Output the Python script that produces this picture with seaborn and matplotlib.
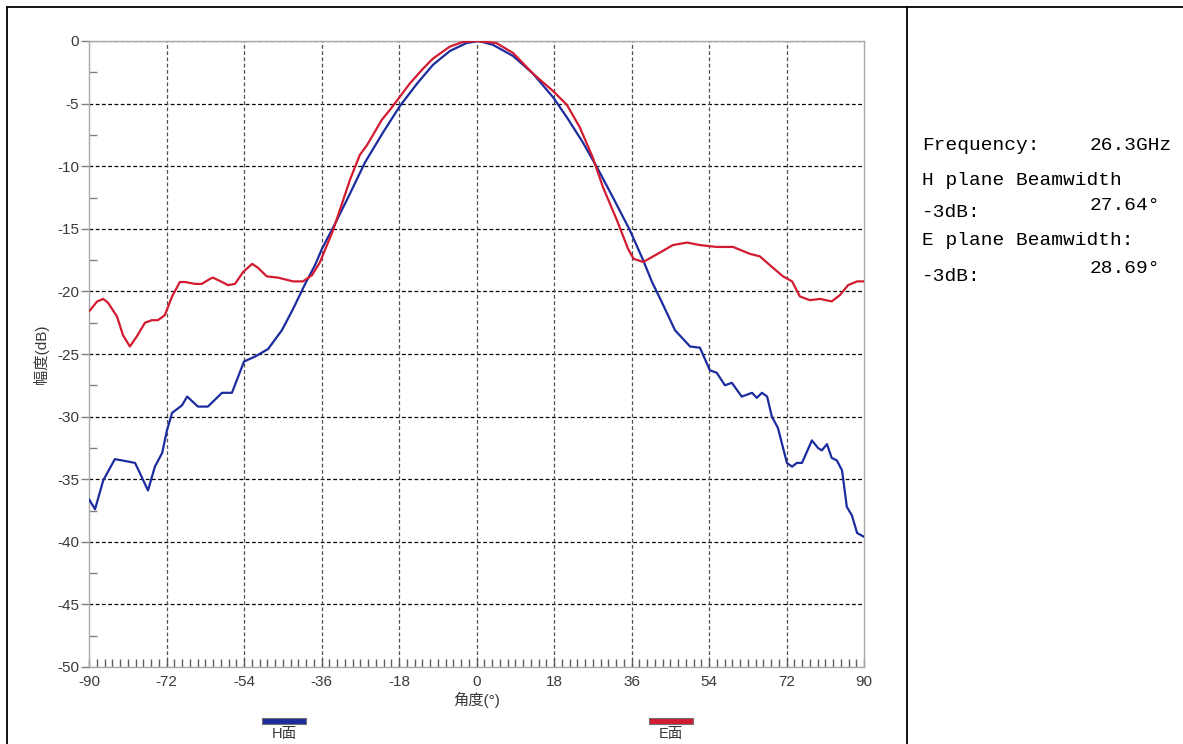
import numpy as np
import pandas as pd
import matplotlib.pyplot as plt
import seaborn as sns
from matplotlib.lines import Line2D
from matplotlib.patches import Rectangle
from matplotlib.ticker import MultipleLocator

# -----------------------------
# Data
# -----------------------------
h_angle = [-90, -88.6, -86.7, -84.0, -82.3, -79.3, -78.2, -76.3, -74.7, -73.0,
           -71.9, -70.7, -68.4, -67.2, -64.7, -62.4, -59.1, -56.8, -54.0, -51.4,
           -48.4, -45.2, -42.6, -39.8, -37.5, -35.9, -33.3, -29.4, -25.9, -21.7,
           -17.8, -13.8, -10.1, -6.2, -2.3, 0.5, 3.8, 8.5, 13.1, 17.8,
           21.0, 24.7, 28.0, 31.7, 35.6, 38.7, 40.7, 43.1, 46.1, 49.6,
           51.9, 54.2, 55.8, 57.7, 59.3, 61.6, 64.0, 65.1, 66.3, 67.5,
           68.6, 70.0, 72.1, 73.3, 74.4, 75.6, 77.9, 79.3, 80.2, 81.4,
           82.5, 83.7, 84.9, 86.0, 87.2, 88.4, 90]
h_db = [-36.6, -37.4, -35.1, -33.4, -33.5, -33.7, -34.5, -35.9, -34.0, -32.9,
        -31.1, -29.7, -29.1, -28.4, -29.2, -29.2, -28.1, -28.1, -25.6, -25.2,
        -24.6, -23.1, -21.4, -19.4, -17.9, -16.6, -14.9, -12.2, -9.7, -7.3,
        -5.2, -3.4, -1.9, -0.8, -0.16, 0.0, -0.3, -1.2, -2.6, -4.5,
        -6.1, -8.1, -10.1, -12.5, -15.1, -17.5, -19.2, -20.9, -23.1, -24.4,
        -24.5, -26.3, -26.5, -27.5, -27.3, -28.4, -28.1, -28.5, -28.1, -28.4,
        -30.0, -30.9, -33.7, -34.0, -33.7, -33.7, -31.9, -32.5, -32.7, -32.2,
        -33.3, -33.5, -34.3, -37.2, -37.9, -39.3, -39.6]

e_angle = [-90, -88.1, -86.7, -85.6, -83.5, -82.1, -80.5, -78.9, -77.0, -75.4,
           -74.0, -72.4, -70.7, -68.9, -67.7, -65.4, -63.8, -61.9, -61.2, -59.1,
           -57.7, -56.1, -54.2, -52.1, -50.8, -48.7, -46.1, -42.6, -40.3, -38.2,
           -36.4, -33.3, -29.4, -27.1, -25.4, -22.0, -20.1, -15.5, -12.4, -10.1,
           -6.2, -3.2, 0, 4.6, 8.5, 13.1, 17.8, 21.0, 24.0, 27.0,
           29.4, 32.6, 35.2, 36.5, 38.7, 42.6, 45.6, 48.9, 51.9, 55.8,
           59.6, 63.5, 65.8, 68.8, 71.2, 73.3, 75.1, 77.4, 79.8, 82.5,
           84.4, 86.3, 88.4, 90]
e_db = [-21.6, -20.8, -20.6, -20.9, -22.0, -23.5, -24.4, -23.6, -22.5, -22.3,
        -22.3, -21.9, -20.4, -19.25, -19.25, -19.4, -19.4, -19.0, -18.9, -19.25,
        -19.5, -19.4, -18.45, -17.8, -18.1, -18.8, -18.9, -19.2, -19.2, -18.7,
        -17.7, -15.1, -11.1, -9.1, -8.3, -6.3, -5.5, -3.4, -2.2, -1.4,
        -0.45, -0.08, 0.0, -0.16, -0.96, -2.6, -4.0, -5.1, -6.9, -9.3,
        -11.7, -14.3, -16.6, -17.4, -17.65, -16.9, -16.3, -16.1, -16.3, -16.45,
        -16.45, -17.0, -17.2, -18.1, -18.8, -19.2, -20.4, -20.7, -20.6, -20.8,
        -20.3, -19.5, -19.2, -19.2]

x_ticks = [-90, -72, -54, -36, -18, 0, 18, 36, 54, 72, 90]
y_ticks = [0, -5, -10, -15, -20, -25, -30, -35, -40, -45, -50]

series_labels = ["H面", "E面"]
info_lines = [("Frequency:", "26.3GHz"),
              ("H plane Beamwidth", None),
              ("-3dB:", "27.64°"),
              ("E plane Beamwidth:", None),
              ("-3dB:", "28.69°")]

H_COLOR = "#1b2c9e"
E_COLOR = "#d21b30"

# -----------------------------
# Style
# -----------------------------
sns.set_style("white")
plt.rcParams["font.family"] = ["Liberation Sans", "Noto Sans CJK SC", "DejaVu Sans"]
plt.rcParams["axes.unicode_minus"] = False

fig = plt.figure(figsize=(11.83, 7.44), dpi=100)
ax = fig.add_axes([89 / 1183, 1 - 667 / 744, (864 - 89) / 1183, (667 - 41) / 744])

h_df = pd.DataFrame({"angle": h_angle, "db": h_db})
e_df = pd.DataFrame({"angle": e_angle, "db": e_db})
sns.lineplot(data=h_df, x="angle", y="db", ax=ax, color=H_COLOR, lw=1.6,
             sort=False, estimator=None, zorder=3)
sns.lineplot(data=e_df, x="angle", y="db", ax=ax, color=E_COLOR, lw=1.6,
             sort=False, estimator=None, zorder=4)

ax.set_xlim(-90, 90)
ax.set_ylim(-50, 0)
ax.set_xticks(x_ticks)
ax.set_yticks(y_ticks)
ax.xaxis.set_minor_locator(MultipleLocator(1.8))
ax.yaxis.set_minor_locator(MultipleLocator(2.5))

for s in ax.spines.values():
    s.set_color("#a8a8a8")
    s.set_linewidth(1.0)

# seaborn "white" hides ticks -> switch them back on
ax.tick_params(which="both", bottom=True, left=True, top=False, right=False)
ax.tick_params(axis="y", which="major", direction="out", length=6, width=1,
               color="#808080", pad=1, labelsize=11, labelcolor="#3a3a3a")
ax.tick_params(axis="y", which="minor", direction="in", length=6, width=1,
               color="#808080")
ax.tick_params(axis="x", which="major", direction="in", length=6, width=1,
               color="#606060", pad=6, labelsize=11, labelcolor="#3a3a3a")
ax.tick_params(axis="x", which="minor", direction="in", length=6, width=1,
               color="#606060")

# dashed grid
for yv in y_ticks[:-1]:
    ax.axhline(yv, color="black", lw=0.9, ls=(0, (3, 2)), zorder=1)
for xv in x_ticks[1:-1]:
    ax.axvline(xv, color="#505050", lw=0.9, ls=(0, (3, 2)), zorder=1)

ax.set_xlabel("角度(°)", fontsize=11, color="#3a3a3a", labelpad=2)
ax.set_ylabel("幅度(dB)", fontsize=11, color="#3a3a3a", labelpad=6)

# legend (bars with labels below)
for cx, col, lab in [(284, H_COLOR, series_labels[0]), (671, E_COLOR, series_labels[1])]:
    fig.add_artist(Rectangle(((cx - 22) / 1183, 1 - 724 / 744), 44 / 1183, 6 / 744,
                             transform=fig.transFigure, facecolor=col,
                             edgecolor="#707070", lw=0.8))
    fig.text(cx / 1183, 1 - 727 / 744, lab, ha="center", va="top",
             fontsize=10.5, color="#3a3a3a")

# outer frame
fig.add_artist(Line2D([7 / 1183, 1], [1 - 7 / 744, 1 - 7 / 744],
                      transform=fig.transFigure, color="black", lw=1.3))
fig.add_artist(Line2D([7 / 1183, 7 / 1183], [0, 1 - 7 / 744],
                      transform=fig.transFigure, color="black", lw=1.3))
fig.add_artist(Line2D([907 / 1183, 907 / 1183], [0, 1 - 7 / 744],
                      transform=fig.transFigure, color="black", lw=1.3))

# info panel
mono = ["Liberation Mono", "DejaVu Sans Mono"]
baselines = [150, 185, 217, 245, 281]
value_base = [150, None, 210, None, 273]
for (left, right), yb, vb in zip(info_lines, baselines, value_base):
    fig.text(922 / 1183, 1 - yb / 744, left, ha="left", va="baseline",
             fontsize=14, family=mono, color="black")
    if right is not None:
        fig.text(1090 / 1183, 1 - vb / 744, right, ha="left", va="baseline",
                 fontsize=14, family=mono, color="black")

fig.savefig("out.png", dpi=100)
